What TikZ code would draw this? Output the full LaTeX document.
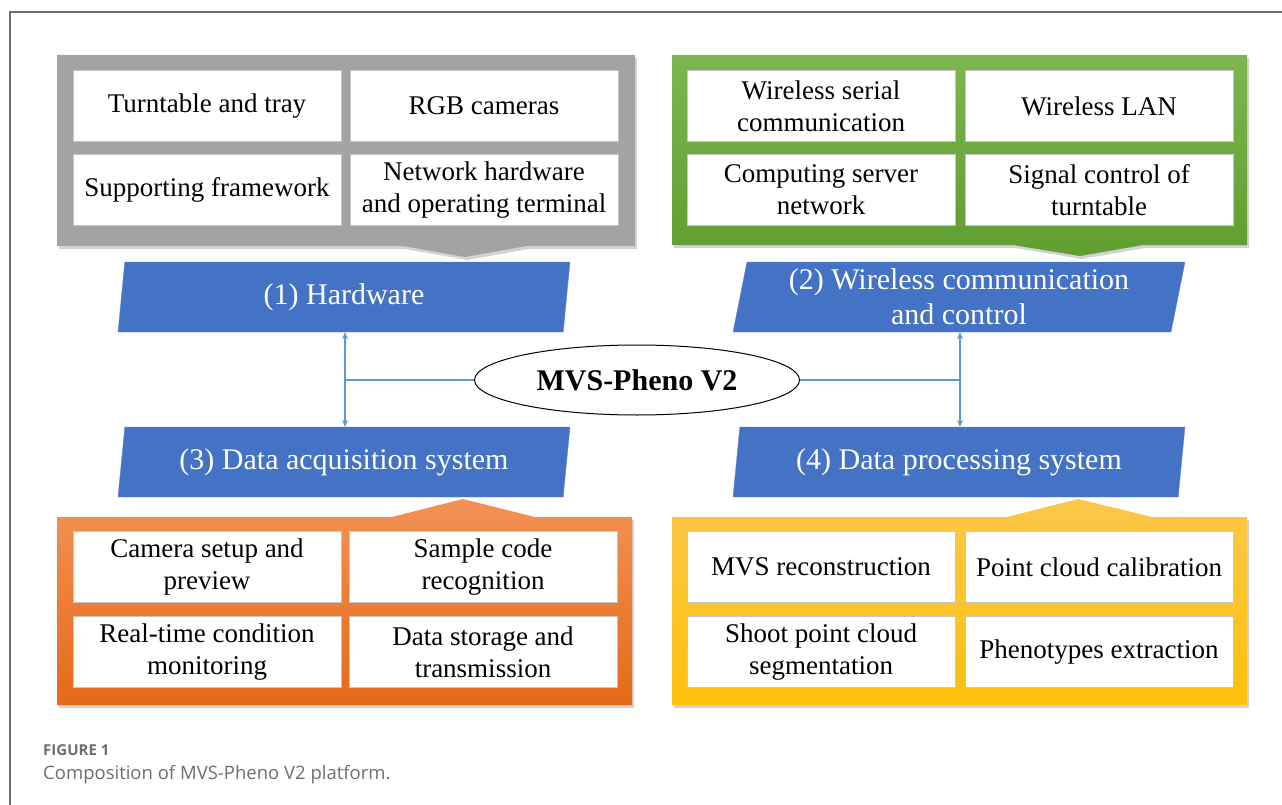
\documentclass[tikz,border=0pt]{standalone}
\usepackage{fontspec}
\setmainfont{Liberation Serif}
\newfontfamily\capfont{Open Sans}
\usetikzlibrary{shapes.geometric,shadows,arrows.meta}

\definecolor{hwgray}{HTML}{A3A3A3}
\definecolor{netgreenA}{HTML}{7DB650}
\definecolor{netgreenB}{HTML}{5F9E30}
\definecolor{acqorangeA}{HTML}{F39255}
\definecolor{acqorangeB}{HTML}{E46A17}
\definecolor{procyellowA}{HTML}{FCC74A}
\definecolor{procyellowB}{HTML}{FDC10A}
\definecolor{parablue}{HTML}{4472C4}
\definecolor{linkblue}{HTML}{5B9BD5}
\definecolor{capgray}{HTML}{6E6E6E}

\tikzset{
  panel/.style={drop shadow={opacity=0.35, shadow xshift=2pt, shadow yshift=-3pt}},
  cell/.style={draw=gray!45, fill=white, rectangle, minimum width=268pt, minimum height=71pt,
    inner sep=2pt, align=center, font=\fontsize{27}{32}\selectfont},
  para/.style={trapezium, trapezium left angle=76, trapezium right angle=104,
    trapezium stretches body, fill=parablue, draw=parablue!80!white, text=white,
    minimum width=452pt, minimum height=70pt, inner sep=0pt, align=center,
    font=\fontsize{30}{35}\selectfont},
  link/.style={draw=linkblue, line width=1.2pt, >={Stealth[length=7pt,width=6pt]}}
}

\begin{document}
\begin{tikzpicture}[x=1pt, y=-1pt]
\useasboundingbox (0,0) rectangle (1282,805);
\draw[capgray, line width=1.2pt] (10,805) -- (10,12) -- (1282,12);

% coloured frames with their pointers
\path[panel, fill=hwgray] (57,55) -- (635,55) -- (635,246) -- (527,246) -- (465,257) -- (403,246) -- (57,246) -- cycle;
\path[panel, top color=netgreenA, bottom color=netgreenB] (672,55) -- (1247,55) -- (1247,245) -- (1143,245) -- (1080,256) -- (1013,245) -- (672,245) -- cycle;
\path[panel, top color=acqorangeA, bottom color=acqorangeB] (57,517) -- (392,517) -- (463,499) -- (535,517) -- (632,517) -- (632,705) -- (57,705) -- cycle;
\path[panel, top color=procyellowA, bottom color=procyellowB] (672,517) -- (1007,517) -- (1078,499) -- (1152,517) -- (1247,517) -- (1247,705) -- (672,705) -- cycle;

% (1) hardware
\node[cell] (tray) at (207,106) {Turntable and tray};
\node[cell] (cam) at (484,106) {RGB cameras};
\node[cell] (frame) at (207,190) {Supporting framework};
\node[cell] (term) at (484,190) {Network hardware\\and operating terminal};

% (2) wireless communication
\node[cell] (serial) at (821,106) {Wireless serial\\communication};
\node[cell] (lan) at (1099,106) {Wireless LAN};
\node[cell] (server) at (821,190) {Computing server\\network};
\node[cell] (signal) at (1099,190) {Signal control of\\turntable};

% (3) data acquisition
\node[cell] (setup) at (207,567) {Camera setup and\\preview};
\node[cell] (code) at (483,567) {Sample code\\recognition};
\node[cell] (monitor) at (207,652) {Real-time condition\\monitoring};
\node[cell] (store) at (483,652) {Data storage and\\transmission};

% (4) data processing
\node[cell] (recon) at (821,567) {MVS reconstruction};
\node[cell] (calib) at (1099,567) {Point cloud calibration};
\node[cell] (seg) at (821,652) {Shoot point cloud\\segmentation};
\node[cell] (pheno) at (1099,652) {Phenotypes extraction};

% module titles
\node[para] (hw) at (344,297) {(1) Hardware};
\node[para] (wcc) at (959,297) {(2) Wireless communication\\and control};
\node[para] (acq) at (344,462) {(3) Data acquisition system};
\node[para] (proc) at (959,462) {(4) Data processing system};

\node[draw, ellipse, line width=1pt, fill=white, minimum width=325pt, minimum height=70pt, inner sep=0pt,
  font=\fontsize{30}{35}\selectfont\bfseries] (mvs) at (637,380) {MVS-Pheno V2};

\coordinate (lj) at (345,380);
\coordinate (rj) at (960,380);
\draw[link] (mvs.west) -- (lj);
\draw[link] (mvs.east) -- (rj);
\draw[link, <->] (lj |- hw.south) -- (lj |- acq.north);
\draw[link, <->] (rj |- wcc.south) -- (rj |- proc.north);

\node[anchor=base west, text=capgray, inner sep=0pt, font=\capfont\fontsize{15}{17}\selectfont\bfseries] (fig) at (43,755) {FIGURE 1};
\node[anchor=base west, text=capgray, inner sep=0pt, font=\capfont\fontsize{18.5}{22}\selectfont] (cap) at (43,779) {Composition of MVS-Pheno V2 platform.};
\end{tikzpicture}
\end{document}
